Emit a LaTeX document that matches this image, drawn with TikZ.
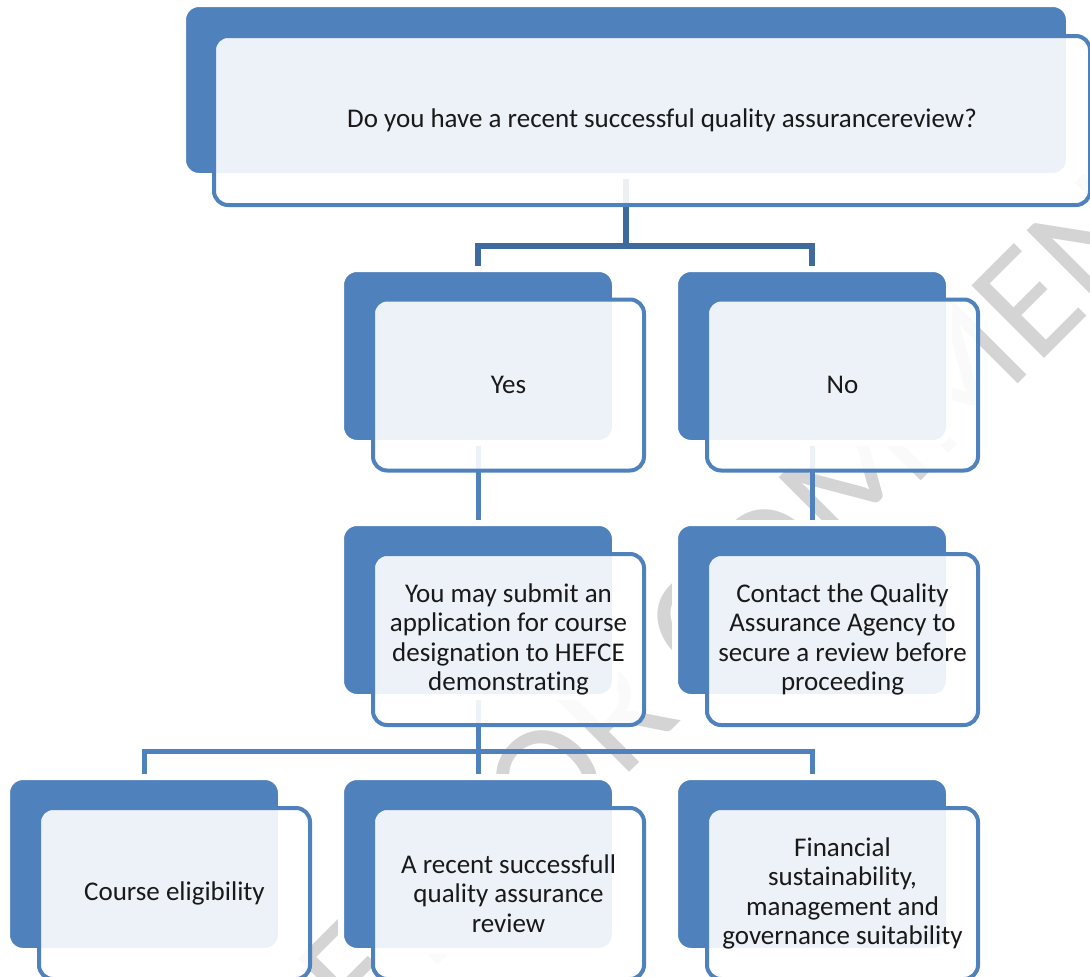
\documentclass[tikz,border=0pt]{standalone}
\usepackage{fontspec}
\setmainfont{Carlito}[Ligatures={NoCommon}]
\definecolor{accent}{HTML}{4F81BD}
\definecolor{conndark}{HTML}{3E6A9F}
\definecolor{wmark}{gray}{0.83}
\begin{document}
\begin{tikzpicture}[x=1pt,y=-1pt,
  backbox/.style={rectangle, rounded corners=16pt, fill=accent, draw=white, line width=6pt, inner sep=0pt},
  frontbox/.style={rectangle, rounded corners=14pt, draw=accent, line width=4pt, fill=white, fill opacity=0.9, text opacity=1, inner sep=0pt, align=center, text=black!90, font=\fontsize{27}{29.6}\selectfont, minimum width=271pt, minimum height=171pt},
  conn/.style={draw=accent, line width=5pt},
  topconn/.style={draw=conndark, line width=6pt},
  watermark/.style={rotate=45, text=wmark, font=\fontsize{160}{160}\selectfont, inner sep=0pt}
]
\useasboundingbox (0,0) rectangle (1090,977);
\clip (0,0) rectangle (1090,977);

% watermark
\node[watermark] (wm) at (657,673) {DRAFT FOR COMMENT};

% back boxes
\node[backbox, minimum width=886pt, minimum height=172pt] (topB) at (626,90) {};
\node[backbox, minimum width=274pt, minimum height=174pt] (yesB) at (478,356) {};
\node[backbox, minimum width=274pt, minimum height=174pt] (noB) at (812,356) {};
\node[backbox, minimum width=274pt, minimum height=174pt] (mayB) at (478,610) {};
\node[backbox, minimum width=274pt, minimum height=174pt] (contB) at (812,610) {};
\node[backbox, minimum width=274pt, minimum height=174pt] (eligB) at (144,864) {};
\node[backbox, minimum width=274pt, minimum height=174pt] (qaB) at (478,864) {};
\node[backbox, minimum width=274pt, minimum height=174pt] (finB) at (812,864) {};

% connectors
\coordinate (j1) at (626,246);
\draw[topconn] (topB.south) -- (j1);
\draw[topconn] (yesB.north) |- (j1) -| (noB.north);
\draw[conn] (yesB.south) -- (mayB.north);
\draw[conn] (noB.south) -- (contB.north);
\coordinate (j2) at (478,751);
\draw[conn] (mayB.south) -- (j2);
\draw[conn] (eligB.north) |- (j2) -| (finB.north);
\draw[conn] (j2) -- (qaB.north);

% front boxes
\node[frontbox, minimum width=876pt, minimum height=169pt] (topF) at (652,120.5) {\hspace*{20pt}Do you have a recent successful quality assurancereview?};
\node[frontbox] (yesF) at (508.5,385) {Yes};
\node[frontbox] (noF) at (842.5,385) {No};
\node[frontbox] (mayF) at (508.5,639.5) {You may submit an\\application for course\\designation to HEFCE\\demonstrating};
\node[frontbox] (contF) at (842.5,639.5) {Contact the Quality\\Assurance Agency to\\secure a review before\\proceeding};
\node[frontbox] (eligF) at (174.5,893.5) {Course eligibility};
\node[frontbox] (qaF) at (508.5,893.5) {A recent successfull\\quality assurance\\review};
\node[frontbox] (finF) at (842.5,893.5) {Financial\\sustainability,\\management and\\governance suitability};
\end{tikzpicture}
\end{document}
